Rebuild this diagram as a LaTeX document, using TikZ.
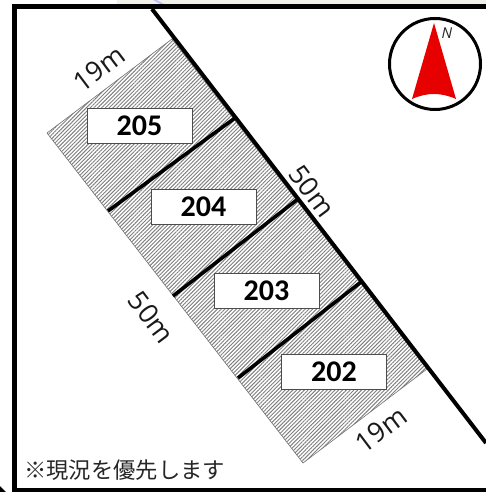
\documentclass[tikz,border=0pt]{standalone}
\usepackage{fontspec}
\setmainfont{Carlito}
\newfontfamily\cjk{Noto Sans CJK JP}
\newfontfamily\dimfont{Open Sans}
\usetikzlibrary{patterns.meta}
\definecolor{arrowred}{HTML}{E60000}
\definecolor{stripcol}{HTML}{F1F1EA}
\tikzset{
  framebar/.style={line width=5pt,black,line cap=butt},
  roadline/.style={line width=4pt,black},
  divider/.style={line width=3.6pt,black},
  parcel/.style={draw=black!55,line width=0.6pt,pattern={Lines[angle=45,distance=2.7pt,line width=0.95pt]},pattern color=black!50},
  lotbox/.style={draw=black!70,line width=0.9pt,fill=white,minimum height=35pt,inner sep=0pt,font=\fontsize{30}{30}\selectfont\bfseries},
  dim/.style={font=\dimfont\fontsize{27}{27}\selectfont,text=black!90,inner sep=0pt},
  note/.style={font=\cjk\fontsize{22.3}{22.3}\selectfont,text=black!85,inner sep=0pt,anchor=west}
}
\begin{document}
\begin{tikzpicture}[x=1pt,y=-1pt]
\useasboundingbox (0,0) rectangle (486,492);
\fill[white] (0,0) rectangle (486,492);
\fill[stripcol] (117,0) rectangle (486,4);
\fill[blue!25] (153,0) -- (157,0) -- (164,4) -- (160,4) -- cycle;
% frame
\coordinate (tl) at (14.5,6.5);
\coordinate (tr) at (486,6.5);
\coordinate (bl) at (14.5,490.5);
\coordinate (br) at (486,490.5);
\draw[framebar,line join=miter] (tr) -- (tl) -- (bl) -- (br);
\fill[black] (0,486) -- (6,492) -- (0,492) -- cycle;
% parcel
\coordinate (pa) at (47,133);
\coordinate (pb) at (172,39);
\coordinate (pc) at (427,369);
\coordinate (pd) at (303,463);
\draw[parcel] (pa) -- (pb) -- (pc) -- (pd) -- cycle;
% road
\coordinate (ra) at (152,9);
\coordinate (rb) at (486,443);
\draw[roadline] (ra) -- (rb);
% dividers
\coordinate (d1a) at (108,211);
\coordinate (d1b) at (235,118);
\coordinate (d2a) at (173,296);
\coordinate (d2b) at (298,199);
\coordinate (d3a) at (238,378);
\coordinate (d3b) at (361,282);
\draw[divider] (d1a) -- (d1b);
\draw[divider] (d2a) -- (d2b);
\draw[divider] (d3a) -- (d3b);
% lots
\node[lotbox,minimum width=105pt] (l205) at (139.5,125.5) {205};
\node[lotbox,minimum width=105pt] (l204) at (203.5,207) {204};
\node[lotbox,minimum width=105pt] (l203) at (266.5,290.5) {203};
\node[lotbox,minimum width=105pt] (l202) at (334,371.5) {202};
% dimensions
\node[dim,rotate=37] (t19a) at (99,68.5) {19m};
\node[dim,rotate=-53] (t50a) at (312,191) {50m};
\node[dim,rotate=-53] (t50b) at (151.5,317.5) {50m};
\node[dim,rotate=37] (t19b) at (381,429.5) {19m};
% compass
\node[circle,draw=black,line width=3pt,minimum size=91pt,inner sep=0pt] (comp) at (435,64) {};
\fill[arrowred] (434,23) -- (456,99) .. controls (441,92.3) and (427,92.3) .. (412,99) -- cycle;
\node[font=\dimfont\fontsize{15}{15}\selectfont\itshape,text=black!85,inner sep=0pt] (north) at (447,33) {N};
% note
\node[note] (memo) at (24,470) {※現況を優先します};
\end{tikzpicture}
\end{document}
